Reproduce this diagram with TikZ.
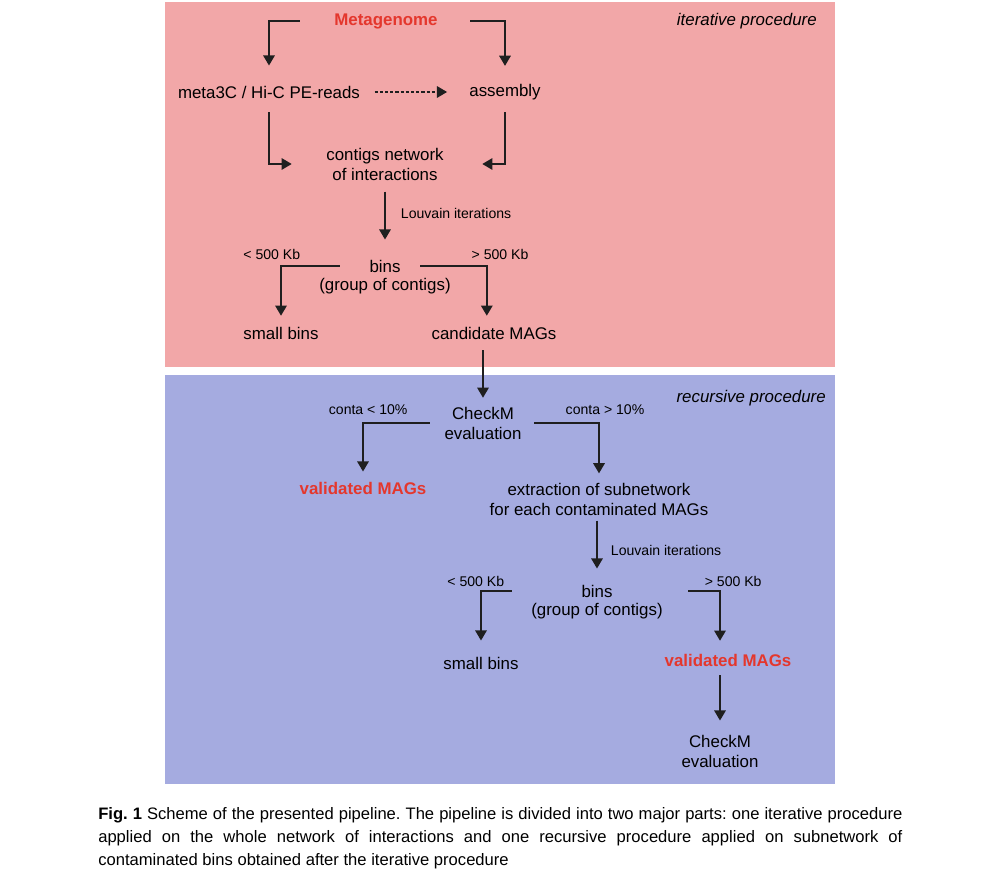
\documentclass[tikz,border=0pt]{standalone}
\usepackage{fontspec}
\setmainfont{Liberation Sans}
\usetikzlibrary{positioning,arrows.meta}

\definecolor{iterpink}{RGB}{242,167,168}
\definecolor{recblue}{RGB}{165,171,224}
\definecolor{magred}{RGB}{228,55,45}

\begin{document}
\begin{tikzpicture}
    [x=0.025cm, y=-0.025cm,
     every node/.style={inner sep=0pt, align=center, font=\fontsize{12}{14.2}\selectfont},
     hit/.style={text=magred, font=\fontsize{12}{14.2}\selectfont\bfseries},
     note/.style={font=\fontsize{10}{12}\selectfont},
     phase/.style={anchor=east, font=\fontsize{12}{14.2}\selectfont\itshape},
     arr/.style={draw=black!88, line width=1.1pt, -{Triangle[length=7.2pt,width=8.2pt]}},
    ]
    \fill [white] (0,0) rectangle (1007,878);
    \fill [iterpink] (165,2) rectangle (835,367);
    \fill [recblue] (165,375) rectangle (835,784);

    % iterative procedure
    \node (meta) [hit] at (386,21) {Metagenome};
    \node (iter) [phase] at (817,21) {iterative procedure};
    \node (reads) at (269,92) {meta3C / Hi-C PE-reads};
    \node (asm) at (505,92) {assembly};
    \node (net) at (385,164) {contigs network\\of interactions};
    \node (bins) at (385,266) {bins};
    \node (grp) at (385,286) {(group of contigs)};
    \node (small) at (281,333) {small bins};
    \node (cand) at (494,333) {candidate MAGs};

    % recursive procedure
    \node (rec) [phase] at (826,398) {recursive procedure};
    \node (chk) at (483,423) {CheckM\\evaluation};
    \node (valid) [hit] at (363,488) {validated MAGs};
    \node (extract) at (599,499) {extraction of subnetwork\\for each contaminated MAGs};
    \node (subbins) at (597,591) {bins};
    \node (subgrp) at (597,611) {(group of contigs)};
    \node (subsmall) at (481,663) {small bins};
    \node (subvalid) [hit] at (728,660) {validated MAGs};
    \node (subchk) at (720,751) {CheckM\\evaluation};

    \node (caption) [anchor=north west, text width=20.1cm, align=justify,
        font=\fontsize{11.8}{16.6}\selectfont\frenchspacing] at (98,807) {%
        \hyphenpenalty=10000
        \textbf{Fig. 1} Scheme of the presented pipeline. The pipeline is divided into two major parts: one iterative procedure\linebreak
        applied on the whole network of interactions and one recursive procedure applied on subnetwork of\linebreak
        contaminated bins obtained after the iterative procedure};

    \draw [arr, shorten <=0.86cm, shorten >=0.5cm] (meta.west) -| (reads.north);
    \draw [arr, shorten <=0.81cm, shorten >=0.45cm] (meta.east) -| (asm.north);
    \draw [arr, line width=1pt, dash pattern=on 2.2pt off 1.5pt, shorten <=0.36cm, shorten >=0.55cm] (reads.east) -- (asm.west);
    \draw [arr, shorten <=0.35cm, shorten >=0.86cm] (reads.south) |- (net.west);
    \draw [arr, shorten <=0.3cm, shorten >=0.96cm] (asm.south) |- (net.east);
    \draw [arr, shorten <=0.28cm, shorten >=0.5cm] (net.south) -- (bins.north)
        node [note, right=0.38cm, pos=0.42] {Louvain iterations};
    \draw [arr, shorten <=0.74cm, shorten >=0.27cm] (bins.west) -| (small.north)
        node [note, above=0.13cm, xshift=-0.23cm, pos=0.5] {< 500 Kb};
    \draw [arr, shorten <=0.49cm, shorten >=0.27cm] (bins.east) -| ([xshift=-0.18cm]cand.north)
        node [note, above=0.13cm, xshift=0.33cm, pos=0.5] {> 500 Kb};
    \draw [arr, shorten <=0.27cm, shorten >=0.22cm] (chk.north |- cand.south) -- (chk.north);

    \draw [arr, shorten <=0.36cm, shorten >=0.25cm] (chk.west) -| (valid.north)
        node [note, above=0.18cm, xshift=0.13cm, pos=0.5] {conta < 10\%};
    \draw [arr, shorten <=0.31cm, shorten >=0.23cm] (chk.east) -| (extract.north)
        node [note, above=0.18cm, xshift=0.15cm, pos=0.5] {conta > 10\%};
    \draw [arr, shorten <=0.13cm, shorten >=0.4cm] (subbins.north |- extract.south) -- (subbins.north)
        node [note, right=0.33cm, pos=0.5] {Louvain iterations};
    \draw [arr, shorten <=1.74cm, shorten >=0.4cm] (subbins.west) -| (subsmall.north)
        node [note, above=0.08cm, xshift=-0.13cm, pos=0.5] {< 500 Kb};
    \draw [arr, shorten <=1.89cm, shorten >=0.32cm] (subbins.east) -| (subchk.north |- subvalid.north)
        node [note, above=0.08cm, xshift=0.33cm, pos=0.5] {> 500 Kb};
    \draw [arr, shorten <=0.22cm, shorten >=0.35cm] (subchk.north |- subvalid.south) -- (subchk.north);
\end{tikzpicture}
\end{document}
